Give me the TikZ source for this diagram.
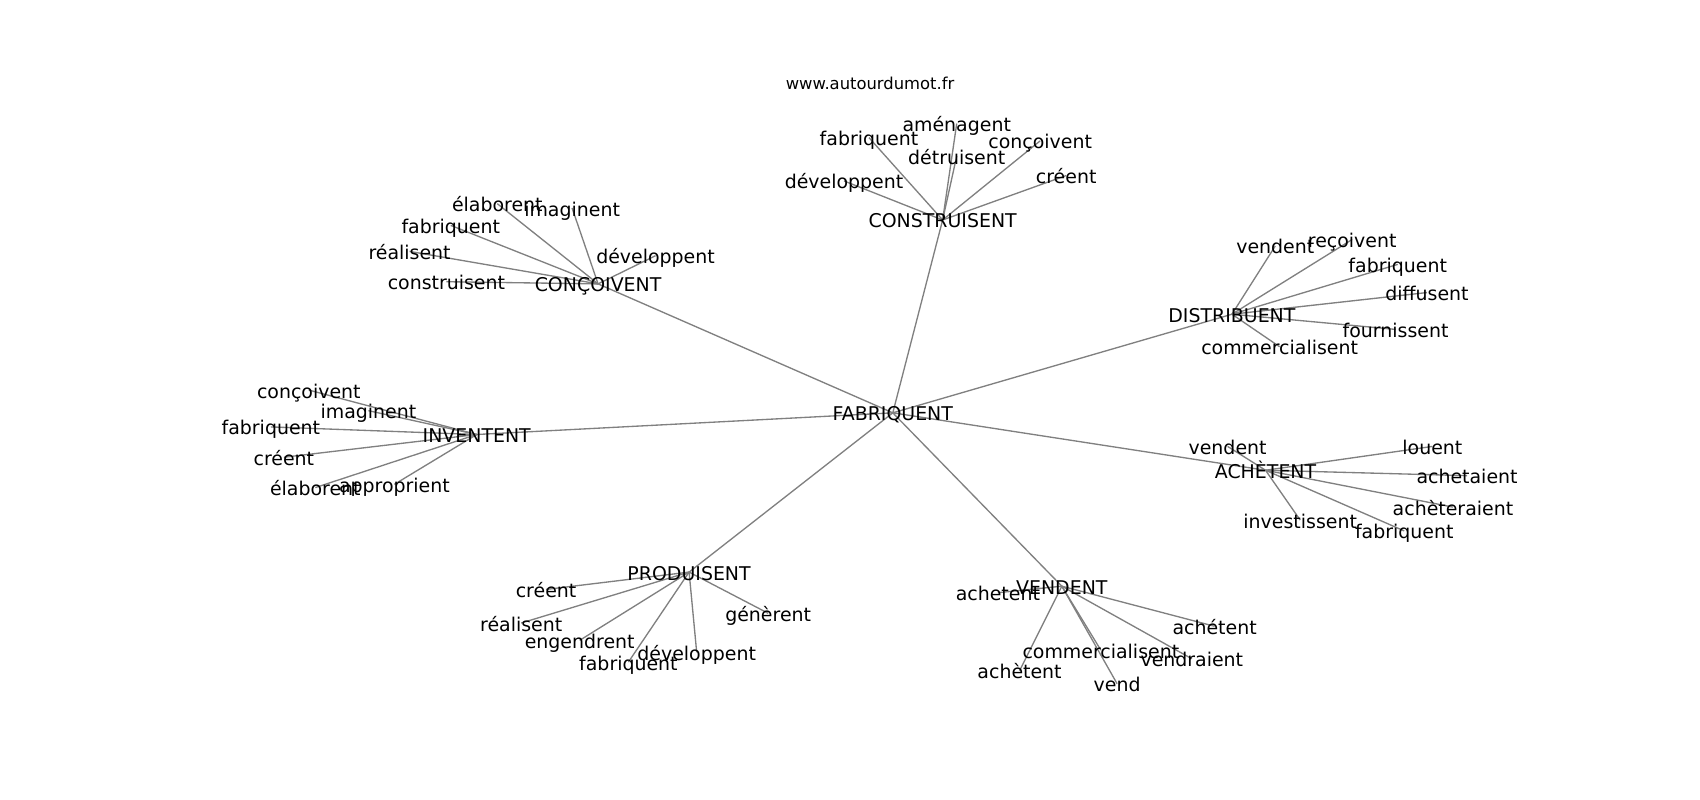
\documentclass[tikz,border=0pt]{standalone}
\usepackage{fontspec}
\setmainfont{DejaVu Sans}
\usepackage{tikz}
\usetikzlibrary{backgrounds}
\tikzstyle{word} = [font=\fontsize{4.97}{6}\selectfont, inner sep=0pt, text height=4.2pt, text depth=0pt]
\tikzstyle{site} = [font=\fontsize{4.3}{5}\selectfont, inner sep=0pt]
\tikzstyle{edge} = [draw=gray, line width=0.35pt]

\begin{document}
\begin{tikzpicture}[x=0.01cm, y=-0.01cm]
\useasboundingbox (0,0) rectangle (1569,738);
\node (site) [site] at (803,77) {www.autourdumot.fr};
% centre
\node (fab) [word] at (824,381) {FABRIQUENT};
% construisent
\node (cons) [word] at (870,203) {CONSTRUISENT};
\node (cons-amen) [word] at (883,114) {aménagent};
\node (cons-fab) [word] at (802,127) {fabriquent};
\node (cons-detr) [word] at (883,144) {détruisent};
\node (cons-conc) [word] at (960,130) {conçoivent};
\node (cons-dev) [word] at (779,167) {développent};
\node (cons-cree) [word] at (984,162) {créent};
% conçoivent
\node (conc) [word] at (552,262) {CONÇOIVENT};
\node (conc-elab) [word] at (459,188) {élaborent};
\node (conc-imag) [word] at (528,192) {imaginent};
\node (conc-fab) [word] at (416,208) {fabriquent};
\node (conc-real) [word] at (378,232) {réalisent};
\node (conc-dev) [word] at (605,236) {développent};
\node (conc-cons) [word] at (412,260) {construisent};
% distribuent
\node (dist) [word] at (1137,290) {DISTRIBUENT};
\node (dist-vend) [word] at (1177,227) {vendent};
\node (dist-recv) [word] at (1248,221) {reçoivent};
\node (dist-fab) [word] at (1290,244) {fabriquent};
\node (dist-diff) [word] at (1317,270) {diffusent};
\node (dist-four) [word] at (1288,304) {fournissent};
\node (dist-comm) [word] at (1181,320) {commercialisent};
% inventent
\node (inv) [word] at (440,401) {INVENTENT};
\node (inv-conc) [word] at (285,360) {conçoivent};
\node (inv-imag) [word] at (340,379) {imaginent};
\node (inv-fab) [word] at (250,394) {fabriquent};
\node (inv-cree) [word] at (262,422) {créent};
\node (inv-elab) [word] at (291,450) {élaborent};
\node (inv-appr) [word] at (364,447) {approprient};
% achètent
\node (ach) [word] at (1168,434) {ACHÈTENT};
\node (ach-vend) [word] at (1133,412) {vendent};
\node (ach-lou) [word] at (1322,412) {louent};
\node (ach-ait) [word] at (1354,439) {achetaient};
\node (ach-rai) [word] at (1341,468) {achèteraient};
\node (ach-inv) [word] at (1200,480) {investissent};
\node (ach-fab) [word] at (1296,490) {fabriquent};
% produisent
\node (prod) [word] at (636,528) {PRODUISENT};
\node (prod-cree) [word] at (504,544) {créent};
\node (prod-real) [word] at (481,575) {réalisent};
\node (prod-eng) [word] at (535,591) {engendrent};
\node (prod-fab) [word] at (580,611) {fabriquent};
\node (prod-dev) [word] at (643,602) {développent};
\node (prod-gen) [word] at (709,566) {génèrent};
% vendent
\node (vend) [word] at (980,541) {VENDENT};
\node (vend-acha) [word] at (921,547) {achetent};
\node (vend-achb) [word] at (1121,578) {achétent};
\node (vend-comm) [word] at (1016,600) {commercialisent};
\node (vend-rai) [word] at (1100,608) {vendraient};
\node (vend-achc) [word] at (941,619) {achètent};
\node (vend-v) [word] at (1031,631) {vend};

\begin{scope}[on background layer]
\foreach \hub in {cons, conc, dist, inv, ach, prod, vend}
  \draw [edge] (fab.center) -- (\hub.center);
\foreach \leaf in {amen, fab, detr, conc, dev, cree}
  \draw [edge] (cons.center) -- (cons-\leaf.center);
\foreach \leaf in {elab, imag, fab, real, dev, cons}
  \draw [edge] (conc.center) -- (conc-\leaf.center);
\foreach \leaf in {vend, recv, fab, diff, four, comm}
  \draw [edge] (dist.center) -- (dist-\leaf.center);
\foreach \leaf in {conc, imag, fab, cree, elab, appr}
  \draw [edge] (inv.center) -- (inv-\leaf.center);
\foreach \leaf in {vend, lou, ait, rai, inv, fab}
  \draw [edge] (ach.center) -- (ach-\leaf.center);
\foreach \leaf in {cree, real, eng, fab, dev, gen}
  \draw [edge] (prod.center) -- (prod-\leaf.center);
\foreach \leaf in {acha, achb, comm, rai, achc, v}
  \draw [edge] (vend.center) -- (vend-\leaf.center);
\end{scope}
\end{tikzpicture}
\end{document}
